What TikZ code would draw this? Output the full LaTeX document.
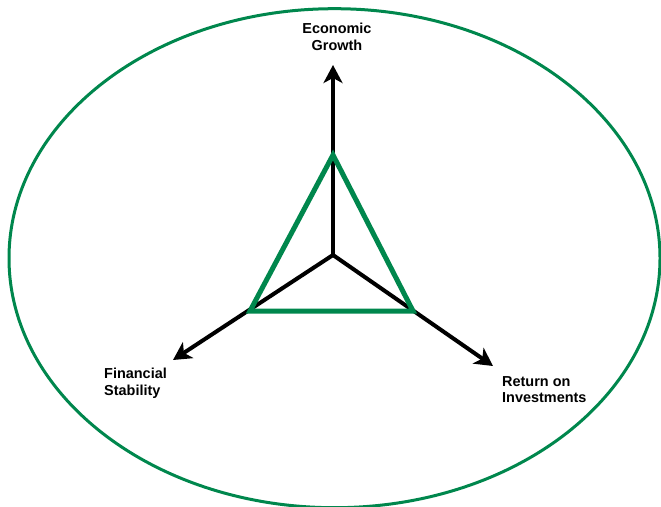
\documentclass[tikz,border=0pt]{standalone}
\usepackage{fontspec}
\setmainfont{Liberation Sans}
\usepackage{tikz}
\usetikzlibrary{positioning,arrows.meta}
\definecolor{RimG}{HTML}{00874D}
\definecolor{AxisK}{HTML}{000000}

\begin{document}
\begin{tikzpicture}[x=1bp,y=-1bp,
  axis/.style={AxisK,line width=4bp,-{Stealth[length=18bp,width=19bp,inset=5bp]}},
  goal/.style={font=\fontsize{14.5}{16.5}\selectfont\bfseries,inner sep=0pt}]
\useasboundingbox (0,0) rectangle (661,507);

% ================= the outer ring =================
\draw[RimG,line width=3bp] (334.5,258.2) ellipse [x radius=325.5,y radius=249.5];

% ================= the three axes =================
\coordinate (o) at (333,255);
\coordinate (grow) at (333,65);
\coordinate (stab) at (173,360);
\coordinate (ret)  at (493,366);
\draw[axis] (o) -- (grow);
\draw[axis] (o) -- (stab);
\draw[axis] (o) -- (ret);

% ================= the triangle =================
\coordinate (tA) at (333,155);
\coordinate (tB) at (250,311);
\coordinate (tC) at (413,311);
\draw[RimG,line width=5bp] (tA) -- (tB) -- (tC) -- cycle;

% ================= labels =================
\node[goal,align=center,anchor=north] (lgrow) at (337,23) {Economic\\Growth};
\node[goal,align=left,anchor=north west] (lstab) at (104,368) {Financial\\Stability};
\node[goal,align=left,anchor=north west] (lret) at (502,376) {Return on\\Investments};
\end{tikzpicture}
\end{document}
